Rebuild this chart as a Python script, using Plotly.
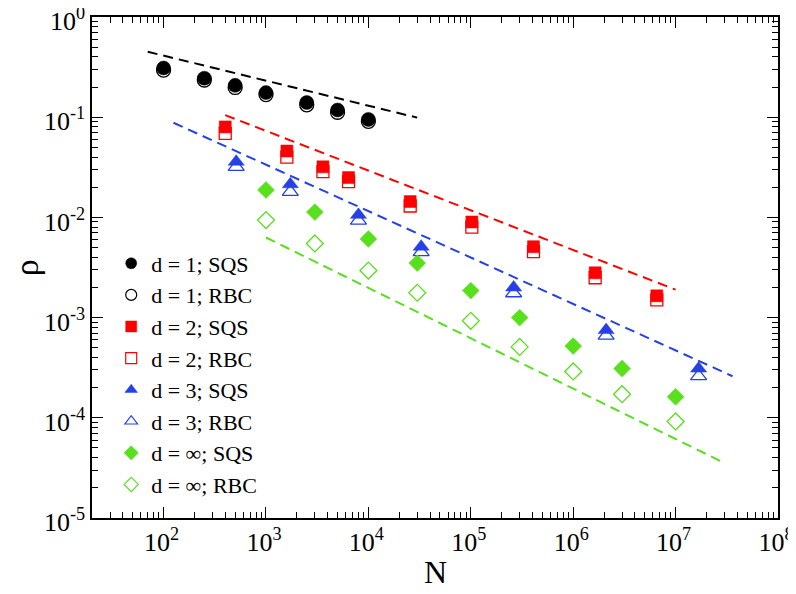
import plotly.graph_objects as go

# ---------------- data ----------------
N_d1 = [100, 250, 500, 1000, 2500, 5000, 10000]
rho_d1_sqs = [0.31, 0.245, 0.208, 0.176, 0.140, 0.118, 0.095]
rho_d1_rbc = [0.295, 0.235, 0.198, 0.168, 0.133, 0.112, 0.091]

N_d2 = [400, 1600, 3600, 6400, 25600, 102400, 409600, 1638400, 6553600]
rho_d2_sqs = [0.080, 0.046, 0.032, 0.025, 0.0144, 0.0090, 0.0051, 0.0028, 0.00165]
rho_d2_rbc = [0.069, 0.040, 0.0286, 0.0228, 0.0130, 0.0080, 0.00456, 0.0025, 0.0015]

N_d3 = [512, 1728, 8000, 32768, 262144, 2097152, 16777216]
rho_d3_sqs = [0.036, 0.0214, 0.0106, 0.0051, 0.0020, 0.00075, 0.00031]
rho_d3_rbc = [0.032, 0.018, 0.0093, 0.0045, 0.00175, 0.00066, 0.00026]

N_dinf = [1e3, 3e3, 1e4, 3e4, 1e5, 3e5, 1e6, 3e6, 1e7]
rho_dinf_sqs = [0.0188, 0.0113, 0.0061, 0.0035, 0.00186, 0.0010, 0.00052, 0.00031, 0.000162]
rho_dinf_rbc = [0.0094, 0.0055, 0.00295, 0.00177, 0.00093, 0.00051, 0.00029, 0.000172, 0.000092]

# fitted power-law guide lines (end points)
fit_d1_x = [70, 30000]
fit_d1_y = [0.45, 0.099]
fit_d2_x = [400, 1e7]
fit_d2_y = [0.105, 0.0019]
fit_d3_x = [125, 3.6e7]
fit_d3_y = [0.088, 0.00026]
fit_dinf_x = [1000, 2.9e7]
fit_dinf_y = [0.0063, 3.6e-5]

x_tickvals = [1e2, 1e3, 1e4, 1e5, 1e6, 1e7, 1e8]
x_ticktext = ["10<sup>2</sup>", "10<sup>3</sup>", "10<sup>4</sup>", "10<sup>5</sup>",
              "10<sup>6</sup>", "10<sup>7</sup>", "10<sup>8</sup>"]
y_tickvals = [1e-5, 1e-4, 1e-3, 1e-2, 1e-1, 1e0]
y_ticktext = ["10<sup>-5</sup>", "10<sup>-4</sup>", "10<sup>-3</sup>", "10<sup>-2</sup>",
              "10<sup>-1</sup>", "10<sup>0</sup>"]

legend_names = ["d = 1; SQS", "d = 1; RBC", "d = 2; SQS", "d = 2; RBC",
                "d = 3; SQS", "d = 3; RBC", "d = ∞; SQS", "d = ∞; RBC"]

# ---------------- styles ----------------
BLACK = "#000000"
RED = "#ff0000"
BLUE = "#2440e6"
GREEN = "#58e01c"
FONT = "Liberation Serif, Times New Roman, serif"

fig = go.Figure()

def add_fit(x, y, color):
    fig.add_trace(go.Scatter(x=x, y=y, mode="lines", showlegend=False,
                             line=dict(color=color, width=2, dash="10px,6px")))

add_fit(fit_d1_x, fit_d1_y, BLACK)
add_fit(fit_d2_x, fit_d2_y, RED)
add_fit(fit_d3_x, fit_d3_y, BLUE)
add_fit(fit_dinf_x, fit_dinf_y, GREEN)

series = [
    (N_d1, rho_d1_rbc, rho_d1_sqs, "circle", BLACK, 14),
    (N_d2, rho_d2_rbc, rho_d2_sqs, "square", RED, 12),
    (N_d3, rho_d3_rbc, rho_d3_sqs, "triangle-up", BLUE, 14),
    (N_dinf, rho_dinf_rbc, rho_dinf_sqs, "diamond", GREEN, 13),
]

for xs, yr, ys, sym, col, sz in series:
    fig.add_trace(go.Scatter(x=xs, y=yr, mode="markers", showlegend=False,
                             marker=dict(symbol=sym, size=sz, color="white",
                                         line=dict(color=col, width=1.3))))
    fig.add_trace(go.Scatter(x=xs, y=ys, mode="markers", showlegend=False,
                             marker=dict(symbol=sym, size=sz, color=col,
                                         line=dict(color=col, width=0.5))))

# legend-only entries (smaller symbols as in the reference legend)
for i, (xs, yr, ys, sym, col, sz) in enumerate(series):
    fig.add_trace(go.Scatter(x=[None], y=[None], mode="markers", name=legend_names[2 * i],
                             marker=dict(symbol=sym, size=11, color=col,
                                         line=dict(color=col, width=0.5))))
    fig.add_trace(go.Scatter(x=[None], y=[None], mode="markers", name=legend_names[2 * i + 1],
                             marker=dict(symbol=sym, size=11, color="white",
                                         line=dict(color=col, width=1.2))))

minor_x = [m * 10 ** k for k in range(1, 8) for m in range(2, 10) if m * 10 ** k >= 20]
minor_y = [m * 10.0 ** k for k in range(-5, 0) for m in range(2, 10)]

axis_common = dict(
    type="log", showline=True, linecolor="black", linewidth=1.5, mirror="allticks",
    ticks="inside", ticklen=11, tickwidth=1.3, tickcolor="black",
    showgrid=False, zeroline=False, automargin=False, ticklabeloverflow="allow",
    tickfont=dict(family=FONT, size=26, color="black"),
)

fig.update_xaxes(range=[1.30103, 8], tickvals=x_tickvals, ticktext=x_ticktext,
                 ticklabelshift=-2,
                 minor=dict(tickvals=minor_x, ticks="inside", ticklen=6, tickwidth=1.1,
                            tickcolor="black", showgrid=False),
                 **axis_common)
fig.update_yaxes(range=[-5, 0], tickvals=y_tickvals, ticktext=y_ticktext,
                 ticklabelshift=4,
                 minor=dict(tickvals=minor_y, ticks="inside", ticklen=6, tickwidth=1.1,
                            tickcolor="black", showgrid=False),
                 **axis_common)

fig.add_annotation(text="N", xref="paper", yref="paper", x=0.5, y=-0.107,
                   xanchor="center", yanchor="middle", showarrow=False,
                   font=dict(family=FONT, size=32, color="black"))
fig.add_annotation(text="ρ", xref="paper", yref="paper", x=-0.095, y=0.5,
                   xanchor="center", yanchor="middle", showarrow=False, textangle=-90,
                   font=dict(family=FONT, size=34, color="black"))

# the page body adds an 8px offset; the figure fills the rest of the 796x594 window
fig.update_layout(
    width=788, height=586,
    margin=dict(l=84, r=18, t=9, b=76),
    paper_bgcolor="white", plot_bgcolor="white",
    showlegend=True,
    legend=dict(x=0.028, y=0.55, xanchor="left", yanchor="top",
                bgcolor="rgba(0,0,0,0)", borderwidth=0,
                font=dict(family=FONT, size=22, color="black"),
                tracegroupgap=0, itemsizing="trace"),
)

fig.write_html("out.html")
